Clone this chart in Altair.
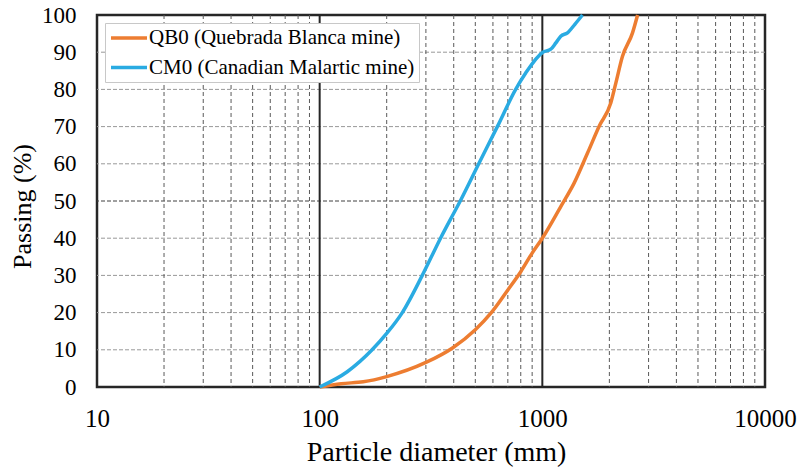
import altair as alt
import pandas as pd

# ---- data ----
qb_label = "QB0 (Quebrada Blanca mine)"
cm_label = "CM0 (Canadian Malartic mine)"

qb_d = [100, 125, 157, 200, 300, 395, 500, 590, 700, 800, 900, 1000, 1210, 1389, 1596, 1800, 2031, 2138, 2291, 2541, 2678]
qb_p = [0, 0.9, 1.4, 2.8, 6.6, 10.5, 15.4, 20, 26.1, 31, 36, 40, 48.5, 54.8, 62.9, 70.1, 76.4, 81.7, 88.9, 95.2, 100]

cm_d = [100, 133, 172, 200, 235, 289, 349, 400, 428, 518, 628, 759, 842, 1005, 1091, 1150, 1210, 1297, 1400, 1514]
cm_p = [0, 4.1, 10, 14.4, 20, 30, 40, 46.7, 50, 60, 70, 80, 84.4, 90, 90.8, 92.5, 94.3, 95.2, 97.5, 100]

x_tick_values = [10, 100, 1000, 10000]
y_tick_values = [0, 10, 20, 30, 40, 50, 60, 70, 80, 90, 100]
minor_x = [20, 30, 40, 50, 60, 70, 80, 90,
           200, 300, 400, 500, 600, 700, 800, 900,
           2000, 3000, 4000, 5000, 6000, 7000, 8000, 9000]
major_x = [100, 1000]
h_grid = [10, 20, 30, 40, 60, 70, 80, 90]
h_grid_dark = [50]

series_order = [qb_label, cm_label]
series_colors = ["#ED7D31", "#2AABE2"]

df = pd.DataFrame(
    {"d": qb_d + cm_d,
     "p": qb_p + cm_p,
     "s": [qb_label] * len(qb_d) + [cm_label] * len(cm_d),
     "o": list(range(len(qb_d))) + list(range(len(cm_d)))}
)

FONT = "Liberation Serif"
xscale = alt.Scale(type="log", domain=[10, 10000], nice=False)
yscale = alt.Scale(domain=[0, 100], nice=False)

X = lambda: alt.X("d:Q", scale=xscale, title="Particle diameter (mm)",
                  axis=alt.Axis(values=x_tick_values, format="d"))
Y = lambda: alt.Y("p:Q", scale=yscale, title="Passing (%)",
                  axis=alt.Axis(values=y_tick_values, format="d"))

hgrid = alt.Chart(pd.DataFrame({"p": h_grid})).mark_rule(
    color="#999999", strokeWidth=1, strokeDash=[4, 2]
).encode(y=Y())

hgrid50 = alt.Chart(pd.DataFrame({"p": h_grid_dark})).mark_rule(
    color="#404040", strokeWidth=1, strokeDash=[4, 2]
).encode(y=Y())

vminor = alt.Chart(pd.DataFrame({"d": minor_x})).mark_rule(
    color="#595959", strokeWidth=1, strokeDash=[4, 3]
).encode(x=X())

vmajor = alt.Chart(pd.DataFrame({"d": major_x})).mark_rule(
    color="#262626", strokeWidth=2
).encode(x=X())

lines = alt.Chart(df).mark_line(strokeWidth=3.5, interpolate="monotone").encode(
    x=X(),
    y=Y(),
    color=alt.Color("s:N", scale=alt.Scale(domain=series_order, range=series_colors),
                    legend=alt.Legend(orient="none", legendX=8, legendY=8, title=None)),
    order="o:Q",
)

chart = alt.layer(hgrid, hgrid50, vminor, vmajor, lines).properties(
    width=668, height=372,
    autosize=alt.AutoSizeParams(type="none"),
    padding={"left": 97, "top": 15, "right": 36, "bottom": 80},
    background="white",
).configure_view(
    stroke="#262626", strokeWidth=2.5
).configure_axis(
    grid=False, ticks=False, domain=False,
    labelFont=FONT, titleFont=FONT, labelColor="black", titleColor="black",
    titleFontWeight="normal", labelFlush=False, labelOverlap=False,
    titleAlign="center", titleBaseline="middle",
).configure_axisX(
    labelFontSize=25, labelPadding=19, titleFontSize=28, titleX=339, titleY=65,
).configure_axisY(
    labelFontSize=23, labelPadding=21, titleFontSize=26, titleX=-75, titleY=191,
    titleAngle=270,
).configure_legend(
    symbolType="M-1,0H3", symbolSize=324, symbolStrokeWidth=3.5,
    labelFont=FONT, labelFontSize=21, labelColor="black",
    strokeColor="#C8C8C8", fillColor="white",
    padding=4, rowPadding=8.5, labelOffset=18, labelLimit=0,
)

chart.save("out.html", embed_options={"renderer": "svg", "actions": False})
